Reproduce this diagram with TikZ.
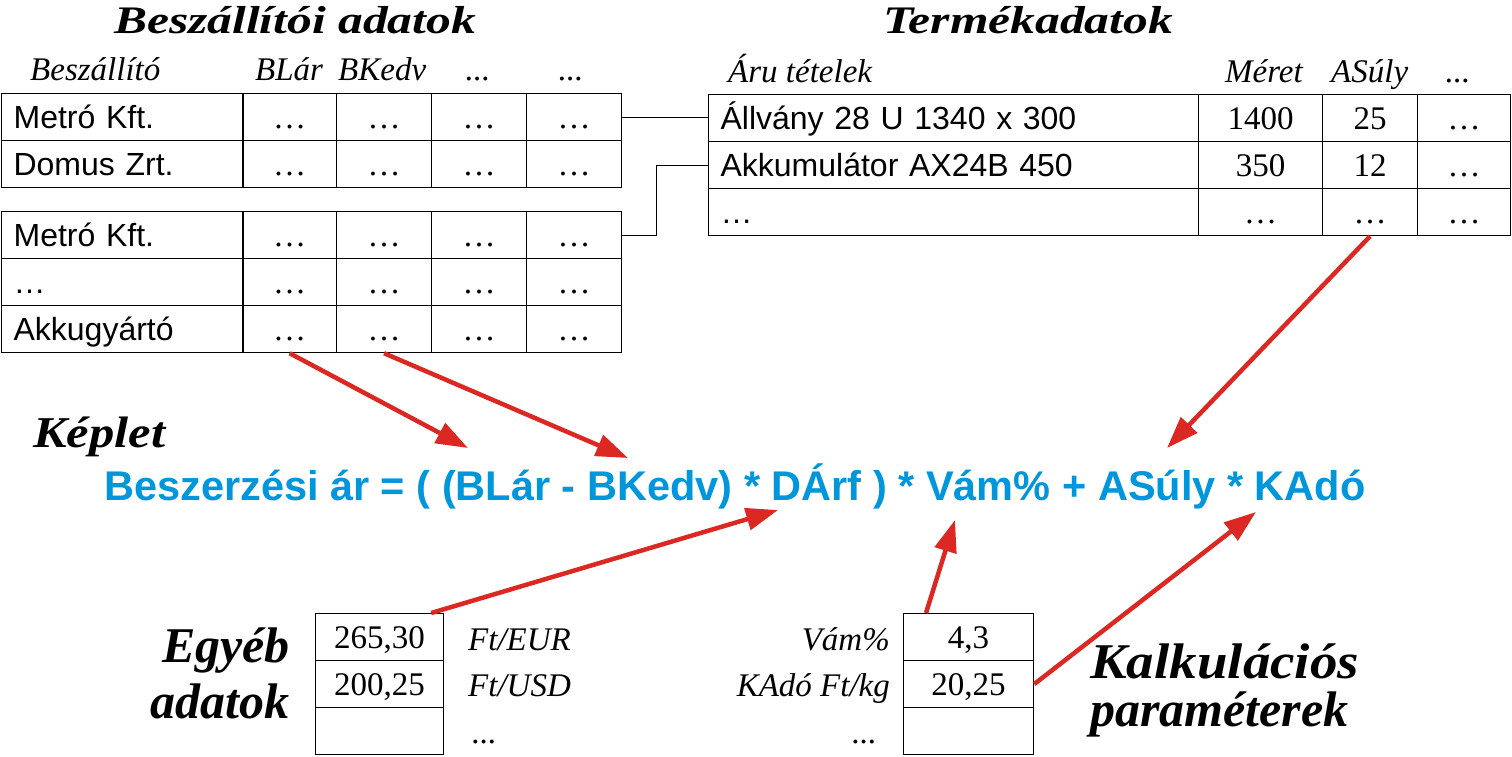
\documentclass[tikz,border=0pt]{standalone}
\usepackage{fontspec}
\setmainfont{Liberation Serif}
\newfontfamily\arial{Liberation Sans}
\usetikzlibrary{calc}
\usetikzlibrary{positioning}
\usetikzlibrary{arrows.meta}
\definecolor{formulablue}{RGB}{0,150,220}
\definecolor{arrowred}{RGB}{220,40,35}
\newcommand\titlefont{\bfseries\itshape\fontsize{39}{44}\selectfont}
\newcommand\bigfont{\bfseries\itshape\fontsize{50}{54}\selectfont}

\begin{document}
\begin{tikzpicture}[x=1pt, y=-1pt,
    cell/.style={draw, line width=1.2pt, inner sep=0pt, anchor=north west, minimum height=47pt, text height=24pt, text depth=1pt},
    namecell/.style={cell, text width=218pt, inner xsep=12pt, align=left, font=\arial\fontsize{32}{36}\selectfont},
    numcell/.style={cell, font=\fontsize{33}{36}\selectfont},
    hdr/.style={inner sep=0pt, font=\itshape\fontsize{33}{36}\selectfont},
]
\tikzset{
  link/.style={line width=0.9pt, black},
  feed/.style={arrowred, line width=4.5pt, -{Triangle[length=32pt,width=22pt]}},
}
\useasboundingbox (0,0) rectangle (1512,756);

% titles
\node[anchor=base, inner sep=0pt, font=\titlefont] (supplier-title) at (295,33) {\scalebox{1.27}[1]{Beszállítói adatok}};
\node[anchor=base, inner sep=0pt, font=\titlefont] (product-title) at (1028,33) {\scalebox{1.27}[1]{Termékadatok}};

% supplier headers
\node[hdr, anchor=base west] (h-beszallito) at (30,80) {Beszállító};
\node[hdr, anchor=base west] (h-blar) at (255,80) {BLár};
\node[hdr, anchor=base west] (h-bkedv) at (338,80) {BKedv};
\node[hdr, anchor=base] (h-s4) at (478,80) {...};
\node[hdr, anchor=base] (h-s5) at (571,80) {...};

% supplier tables
\foreach \r/\name in {1/Metró Kft., 2/Domus Zrt.} {
  \node[namecell] (s1-\r-1) at (1,{93+47*(\r-1)}) {\name};
  \foreach \c/\x/\w in {2/242/94, 3/336/95, 4/431/95, 5/526/95}
    \node[numcell, minimum width=\w pt] (s1-\r-\c) at (\x,{93+47*(\r-1)}) {…};
}
\foreach \r/\name in {1/Metró Kft., 2/\dots, 3/Akkugyártó} {
  \node[namecell] (s2-\r-1) at (1,{211+47*(\r-1)}) {\name};
  \foreach \c/\x/\w in {2/242/94, 3/336/95, 4/431/95, 5/526/95}
    \node[numcell, minimum width=\w pt] (s2-\r-\c) at (\x,{211+47*(\r-1)}) {…};
}

% product headers
\node[hdr, anchor=base west] (h-aru) at (728,82) {Áru tételek};
\node[hdr, anchor=base west] (h-meret) at (1225,82) {Méret};
\node[hdr, anchor=base west] (h-asuly) at (1331,82) {ASúly};
\node[hdr, anchor=base] (h-p4) at (1458,82) {...};

% product table
\foreach \r/\name/\meret/\suly in {1/Állvány 28 U 1340 x 300/1400/25, 2/Akkumulátor AX24B 450/350/12, 3/\dots/…/…} {
  \node[namecell, text width=466pt] (p-\r-1) at (708,{94+47*(\r-1)}) {\name};
  \node[numcell, minimum width=124pt] (p-\r-2) at (1198,{94+47*(\r-1)}) {\meret};
  \node[numcell, minimum width=95pt] (p-\r-3) at (1322,{94+47*(\r-1)}) {\suly};
  \node[numcell, minimum width=93pt] (p-\r-4) at (1417,{94+47*(\r-1)}) {…};
}

% links between tables
\draw[link] (s1-1-5.east) -- (s1-1-5.east -| p-1-1.west);
\draw[link] (s2-1-5.east) -- ++(34,0) |- (p-2-1.west);

% formula
\node[anchor=base west, inner sep=0pt, font=\bigfont\fontsize{44}{48}\selectfont] (keplet) at (33,447) {\scalebox{1.15}[1]{Képlet}};
\node[anchor=base west, inner sep=0pt, text=formulablue, font=\arial\bfseries\fontsize{41.5}{46}\selectfont] (formula) at (104,500)
  {Beszerzési ár = ( (BLár - BKedv) * DÁrf ) * Vám\% + ASúly * KAdó};

% other data
\foreach \r/\val in {1/265{,}30, 2/200{,}25, 3/{}}
  \node[numcell, minimum width=128pt] (e-\r) at (315,{613+47*(\r-1)}) {\val};
\node[hdr, anchor=base west] (e-eur) at (468,650) {Ft/EUR};
\node[hdr, anchor=base west] (e-usd) at (468,696) {Ft/USD};
\node[hdr, anchor=base west] (e-more) at (472,743) {...};
\node[anchor=base east, inner sep=0pt, font=\bigfont] (egyeb-1) at (290,662) {Egyéb};
\node[anchor=base east, inner sep=0pt, font=\bigfont] (egyeb-2) at (290,718) {adatok};

% calculation parameters
\foreach \r/\val in {1/4{,}3, 2/20{,}25, 3/{}}
  \node[numcell, minimum width=130pt] (k-\r) at (903,{613+47*(\r-1)}) {\val};
\node[hdr, anchor=base east] (k-vam) at (890,650) {Vám\%};
\node[hdr, anchor=base east] (k-kado) at (890,696) {KAdó Ft/kg};
\node[hdr, anchor=base east] (k-more) at (877,743) {...};
\node[anchor=base west, inner sep=0pt, font=\bigfont] (kalk-1) at (1090,678) {\scalebox{1.1}[1]{Kalkulációs}};
\node[anchor=base west, inner sep=0pt, font=\bigfont] (kalk-2) at (1090,726) {paraméterek};

% arrows into the formula
\coordinate (tip-blar) at (468,448);
\coordinate (tip-bkedv) at (628,458);
\coordinate (tip-asuly) at (1167,448);
\coordinate (tip-darf) at (778,510);
\coordinate (tip-vam) at (955,520);
\coordinate (tip-kado) at (1256,512);
\draw[feed] (s2-3-2.south) -- (tip-blar);
\draw[feed] (s2-3-3.south) -- (tip-bkedv);
\draw[feed] (p-3-3.south) -- (tip-asuly);
\draw[feed] ($(e-1.north east)+(-13,0)$) -- (tip-darf);
\draw[feed] ($(k-1.north west)+(23,0)$) -- (tip-vam);
\draw[feed] (k-2.east) -- (tip-kado);
\end{tikzpicture}
\end{document}
